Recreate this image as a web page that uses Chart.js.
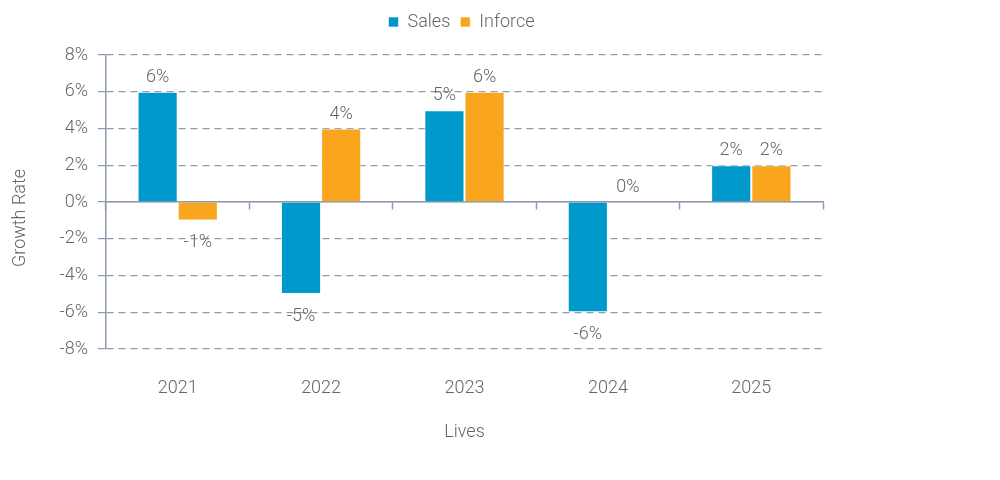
<!DOCTYPE html>
<html>
<head>
<meta charset="utf-8">
<script src="https://cdn.jsdelivr.net/npm/chart.js@4"></script>
<style>
  html, body { margin: 0; padding: 0; background: #fff; }
  #wrap { width: 1000px; height: 480px; }
</style>
</head>
<body>
<div id="wrap"><canvas id="chart"></canvas></div>
<script>
const years = ["2021", "2022", "2023", "2024", "2025"];
const sales = [6, -5, 5, -6, 2];
const inforce = [-1, 4, 6, 0, 2];
const yTicks = [-8, -6, -4, -2, 0, 2, 4, 6, 8];

const textColor = "#666666";
const gridColor = "#8e9ab4";
const fontFamily = "Roboto, 'Noto Sans', sans-serif";
const font = { family: fontFamily, size: 18, weight: 300 };

function pct(v) {
  return v + "%";
}

// value labels above / below each bar
const barLabels = {
  id: "barLabels",
  afterDatasetsDraw(chart) {
    const ctx = chart.ctx;
    ctx.save();
    ctx.font = "300 18px " + fontFamily;
    ctx.fillStyle = textColor;
    ctx.textAlign = "center";
    ctx.textBaseline = "alphabetic";
    chart.data.datasets.forEach((ds, i) => {
      chart.getDatasetMeta(i).data.forEach((bar, j) => {
        const v = ds.data[j];
        if (v >= 0) {
          ctx.fillText(pct(v), bar.x, bar.y - 10);
        } else {
          ctx.fillText(pct(v), bar.x, bar.y + 27);
        }
      });
    });
    ctx.restore();
  }
};

// y title drawn by hand so it sits where the original has it
const yTitle = {
  id: "yTitle",
  afterDraw(chart) {
    const ctx = chart.ctx;
    ctx.save();
    ctx.font = "300 18px " + fontFamily;
    ctx.fillStyle = textColor;
    ctx.textAlign = "center";
    ctx.textBaseline = "middle";
    ctx.translate(20, 218);
    ctx.rotate(-Math.PI / 2);
    ctx.fillText("Growth Rate", 0, 0);
    ctx.restore();
  }
};

// extra room under the legend and centre it over the plot
const legendPlace = {
  id: "legendPlace",
  beforeLayout(chart) {
    const lg = chart.legend;
    if (lg && !lg._extra) {
      const fit = lg.fit;
      lg.fit = function () {
        fit.call(this);
        this.height += 14;
      };
      lg._extra = true;
    }
  },
  afterLayout(chart) {
    const lg = chart.legend;
    const a = chart.chartArea;
    const shift = (a.left + a.right) / 2 - (lg.left + lg.right) / 2 - 3;
    lg.left += shift;
    lg.right += shift;
  }
};

new Chart(document.getElementById("chart"), {
  type: "bar",
  data: {
    labels: years,
    datasets: [
      {
        label: "Sales",
        data: sales,
        backgroundColor: "#0099cc",
        borderColor: "rgba(255,255,255,0.6)",
        borderWidth: 1
      },
      {
        label: "Inforce",
        data: inforce,
        backgroundColor: "#f9a51e",
        borderColor: "rgba(255,255,255,0.6)",
        borderWidth: 1
      }
    ]
  },
  options: {
    responsive: true,
    maintainAspectRatio: false,
    animation: false,
    layout: { padding: { top: 3, right: 177, bottom: 0, left: 0 } },
    datasets: {
      bar: { categoryPercentage: 0.56, barPercentage: 1.0 }
    },
    plugins: {
      legend: {
        position: "top",
        labels: {
          color: textColor,
          font: font,
          boxWidth: 10,
          boxHeight: 10,
          padding: 10
        }
      },
      tooltip: { enabled: false }
    },
    scales: {
      x: {
        position: "bottom",
        grid: { display: false },
        border: { display: false },
        ticks: {
          color: textColor,
          font: font,
          padding: 21
        },
        title: {
          display: true,
          text: "Lives",
          color: textColor,
          font: font,
          padding: { top: 0, bottom: 37 }
        },
        afterFit(scale) {
          scale.height = 131;
        }
      },
      x2: {
        type: "category",
        position: { y: 0 },
        grid: {
          offset: true,
          drawOnChartArea: false,
          drawTicks: true,
          tickLength: 7,
          tickColor: gridColor,
          tickWidth: 1.5
        },
        border: { display: true, color: gridColor, width: 1.5 },
        ticks: { display: false }
      },
      y: {
        min: -8,
        max: 8,
        afterBuildTicks(scale) {
          scale.ticks = yTicks.map(v => ({ value: v }));
        },
        ticks: {
          color: textColor,
          font: font,
          padding: 10,
          callback: v => pct(v)
        },
        grid: {
          color: gridColor,
          lineWidth: 1.2,
          tickLength: 8,
          tickColor: gridColor
        },
        border: {
          display: true,
          color: gridColor,
          width: 1.5,
          dash: ctx => (ctx.type === "tick" && ctx.tick.value !== 0 ? [7, 5] : [])
        },
        afterFit(scale) {
          scale.width = 106;
        }
      }
    }
  },
  plugins: [barLabels, yTitle, legendPlace]
});
</script>
</body>
</html>
